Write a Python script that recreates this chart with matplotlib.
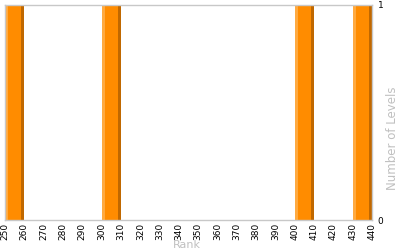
import matplotlib
matplotlib.use("Agg")
import matplotlib.pyplot as plt

bin_starts = [250, 300, 400, 430]
counts = [1, 1, 1, 1]
bin_width = 10
x_ticks = list(range(250, 441, 10))
y_ticks = [0, 1]

fig = plt.figure(figsize=(4, 2.5), dpi=100)
ax = fig.add_axes([0.0125, 0.12, 0.918, 0.86])

main_c = "#FF8C00"
light_c = "#FFAA40"
dark_c = "#C06800"
stripe = 0.16

ax.bar(bin_starts, counts, width=bin_width, align="edge", color=main_c, linewidth=0)
ax.bar(bin_starts, counts, width=bin_width * stripe, align="edge", color=light_c, linewidth=0)
ax.bar([s + bin_width * (1 - stripe) for s in bin_starts], counts, width=bin_width * stripe,
       align="edge", color=dark_c, linewidth=0)

ax.set_xlim(250, 440)
ax.set_ylim(0, 1)
ax.set_xticks(x_ticks)
ax.set_xticklabels([str(t) for t in x_ticks], rotation=90, fontsize=6.5)
ax.yaxis.tick_right()
ax.set_yticks(y_ticks)
ax.set_yticklabels([str(t) for t in y_ticks], fontsize=6.5)
ax.tick_params(axis="x", length=0, pad=2)
ax.tick_params(axis="y", length=0, pad=4)
for s in ax.spines.values():
    s.set_color("#c8c8c8")
    s.set_linewidth(1)

fig.text(187 / 400, 1 - 245 / 250, "Rank", color="#c0c0c0", fontsize=8,
         ha="center", va="center")
fig.text(392 / 400, 1 - 138 / 250, "Number of Levels", color="#c0c0c0", fontsize=8.5,
         ha="center", va="center", rotation=90)

fig.savefig("out.png", dpi=100)
